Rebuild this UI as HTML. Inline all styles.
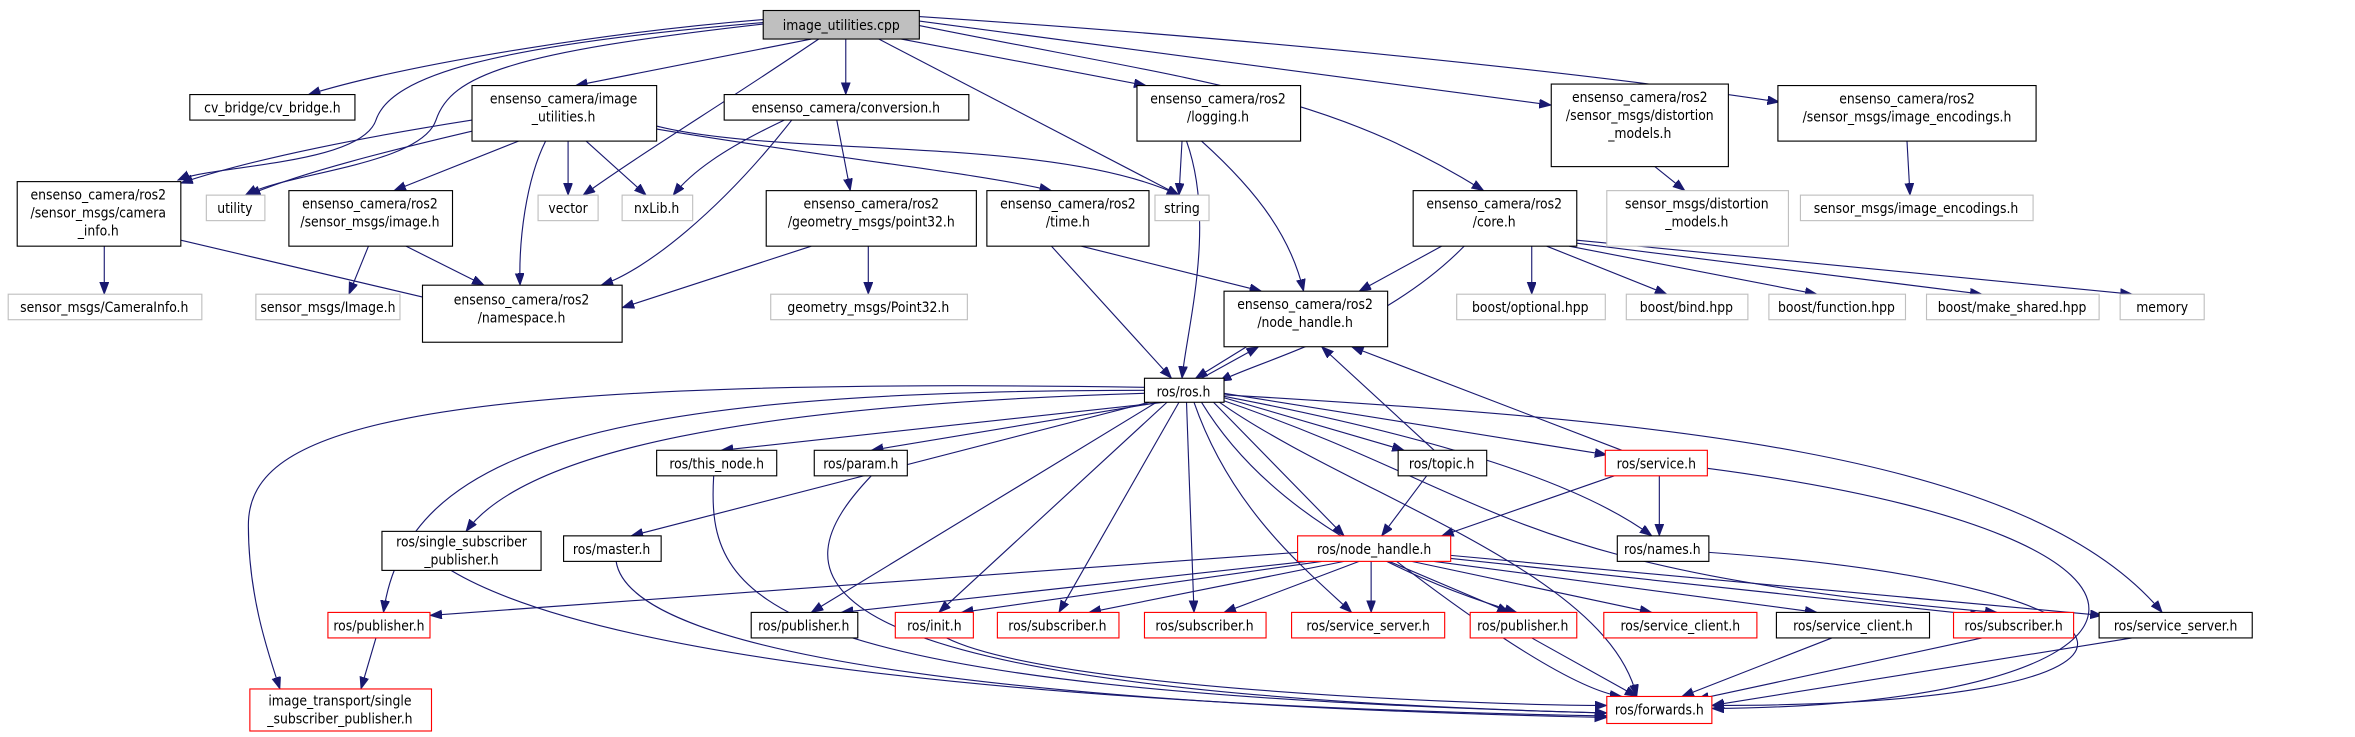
<!DOCTYPE html>
<html><head><meta charset="utf-8"><style>
html,body{margin:0;padding:0;background:#fff;}
svg{display:block}
text{font-family:"DejaVu Sans Condensed","DejaVu Sans","Liberation Sans",sans-serif;font-size:9.2px;text-anchor:middle;fill:#000}
.e{fill:none;stroke:#191970;stroke-width:0.75}
.n{fill:#fff;stroke:#000;stroke-width:0.75}
.g{fill:#fff;stroke:#bfbfbf;stroke-width:0.75}
.r{fill:#fff;stroke:#ff0000;stroke-width:0.75}
</style></head><body>
<svg width="2355" height="737" viewBox="0 0 1568 491" xmlns="http://www.w3.org/2000/svg">
<defs><marker id="a" markerUnits="userSpaceOnUse" markerWidth="9" markerHeight="7" refX="8" refY="3" orient="auto"><path d="M0,0 L8,3 L0,6 z" fill="#191970" stroke="#191970" stroke-width="0.5"/></marker></defs>
<g marker-end="url(#a)">
<path class="e" d="M508,13 C420,20 280,40 205,63"/>
<path class="e" d="M508,15 C330,30 260,50 250,80 C240,110 140,110 118,120"/>
<path class="e" d="M508,16 C340,35 300,50 290,80 C280,110 190,115 163,130"/>
<path class="e" d="M540,26 L383,57"/>
<path class="e" d="M545,26 C480,70 430,100 388,130"/>
<path class="e" d="M563,26 L563,63"/>
<path class="e" d="M585,26 L785,130"/>
<path class="e" d="M600,26 L763,57"/>
<path class="e" d="M612,17 C800,55 880,60 988,127"/>
<path class="e" d="M612,14 C800,40 950,60 1033,70"/>
<path class="e" d="M612,11 C900,30 1100,55 1185,68"/>
<path class="e" d="M314,80 C250,90 170,105 120,122"/>
<path class="e" d="M320,86 C260,100 200,115 165,130"/>
<path class="e" d="M345,94 L262,127"/>
<path class="e" d="M363,94 C350,120 345,160 346,190"/>
<path class="e" d="M378,94 L378,130"/>
<path class="e" d="M390,94 L430,130"/>
<path class="e" d="M437,84 C520,105 700,90 785,130"/>
<path class="e" d="M437,86 C550,105 650,115 700,127"/>
<path class="e" d="M522,80 C480,100 460,115 448,130"/>
<path class="e" d="M527,80 C480,140 430,180 400,190"/>
<path class="e" d="M557,80 L566,127"/>
<path class="e" d="M787,94 L785,130"/>
<path class="e" d="M790,94 C810,150 790,220 787,252"/>
<path class="e" d="M800,94 C840,130 860,160 868,194"/>
<path class="e" d="M69,164 L69,196"/>
<path class="e" d="M120,160 L290,200"/>
<path class="e" d="M245,164 L232,196"/>
<path class="e" d="M270,164 L322,190"/>
<path class="e" d="M540,164 L414,205"/>
<path class="e" d="M578,164 L578,196"/>
<path class="e" d="M700,164 L780,252"/>
<path class="e" d="M720,164 L840,194"/>
<path class="e" d="M960,164 L905,194"/>
<path class="e" d="M975,164 C920,220 840,240 812,254"/>
<path class="e" d="M1020,164 L1020,196"/>
<path class="e" d="M1030,164 L1110,196"/>
<path class="e" d="M1045,164 L1210,196"/>
<path class="e" d="M1050,162 L1320,196"/>
<path class="e" d="M1050,160 L1420,196"/>
<path class="e" d="M1102,111 L1122,127"/>
<path class="e" d="M1270,94 L1272,130"/>
<path class="e" d="M830,231 L796,252"/>
<path class="e" d="M800,252 L838,231"/>
<path class="e" d="M775,268 L480,300"/>
<path class="e" d="M772,268 L580,300"/>
<path class="e" d="M815,265 L935,300"/>
<path class="e" d="M815,262 L1070,303"/>
<path class="e" d="M762,262 C500,270 350,300 310,354"/>
<path class="e" d="M765,268 L420,357"/>
<path class="e" d="M808,268 L895,357"/>
<path class="e" d="M815,264 C950,290 1050,320 1100,357"/>
<path class="e" d="M762,260 C400,260 270,300 255,408"/>
<path class="e" d="M762,258 C250,250 165,290 165,350 C165,400 180,440 186,459"/>
<path class="e" d="M770,268 L540,408"/>
<path class="e" d="M777,268 L625,408"/>
<path class="e" d="M785,268 L705,408"/>
<path class="e" d="M790,268 L795,408"/>
<path class="e" d="M795,268 C820,340 870,380 900,408"/>
<path class="e" d="M800,268 C850,350 950,390 1010,408"/>
<path class="e" d="M812,266 C1000,330 1000,380 1330,408"/>
<path class="e" d="M815,263 C1100,280 1350,300 1440,408"/>
<path class="e" d="M812,268 C900,330 1070,380 1090,464"/>
<path class="e" d="M955,300 L880,231"/>
<path class="e" d="M950,317 L920,357"/>
<path class="e" d="M1080,300 L900,231"/>
<path class="e" d="M1075,317 L960,357"/>
<path class="e" d="M1105,317 L1105,357"/>
<path class="e" d="M1137,312 C1500,360 1450,470 1140,472"/>
<path class="e" d="M475,317 C470,400 500,460 1070,475"/>
<path class="e" d="M580,317 C520,380 500,460 1070,475"/>
<path class="e" d="M300,380 C400,440 700,470 1070,477"/>
<path class="e" d="M410,374 C420,440 700,470 1070,478"/>
<path class="e" d="M1138,368 C1450,390 1480,470 1140,470"/>
<path class="e" d="M864,368 L286,410"/>
<path class="e" d="M870,374 L560,408"/>
<path class="e" d="M880,374 L640,408"/>
<path class="e" d="M895,374 L725,408"/>
<path class="e" d="M905,374 L815,408"/>
<path class="e" d="M913,374 L913,408"/>
<path class="e" d="M925,374 L1005,408"/>
<path class="e" d="M940,374 L1100,408"/>
<path class="e" d="M955,374 L1210,408"/>
<path class="e" d="M966,372 L1320,410"/>
<path class="e" d="M966,370 L1400,410"/>
<path class="e" d="M930,374 C990,420 1050,460 1080,464"/>
<path class="e" d="M250,425 L240,459"/>
<path class="e" d="M630,425 C700,460 1000,470 1070,470"/>
<path class="e" d="M1020,425 L1090,464"/>
<path class="e" d="M1220,425 L1120,464"/>
<path class="e" d="M1320,425 L1130,466"/>
<path class="e" d="M1420,425 L1140,470"/>
</g>
<!-- nodes -->
<rect x="508" y="7" width="104" height="19" fill="#bfbfbf" stroke="#000" stroke-width="0.75"/><text x="560" y="20">image_utilities.cpp</text>
<rect class="n" x="126" y="63" width="110" height="17"/><text x="181" y="75">cv_bridge/cv_bridge.h</text>
<rect class="n" x="314" y="57" width="123" height="37"/><text x="375" y="69">ensenso_camera/image</text><text x="375" y="81">_utilities.h</text>
<rect class="n" x="482" y="63" width="163" height="17"/><text x="563" y="75">ensenso_camera/conversion.h</text>
<rect class="n" x="757" y="57" width="109" height="37"/><text x="811" y="69">ensenso_camera/ros2</text><text x="811" y="81">/logging.h</text>
<rect class="n" x="1033" y="56" width="118" height="55"/><text x="1092" y="68">ensenso_camera/ros2</text><text x="1092" y="80">/sensor_msgs/distortion</text><text x="1092" y="92">_models.h</text>
<rect class="n" x="1184" y="57" width="172" height="37"/><text x="1270" y="69">ensenso_camera/ros2</text><text x="1270" y="81">/sensor_msgs/image_encodings.h</text>
<rect class="n" x="11" y="121" width="109" height="43"/><text x="65" y="133">ensenso_camera/ros2</text><text x="65" y="145">/sensor_msgs/camera</text><text x="65" y="157">_info.h</text>
<rect class="g" x="137" y="130" width="39" height="17"/><text x="156" y="142">utility</text>
<rect class="n" x="192" y="127" width="109" height="37"/><text x="246" y="139">ensenso_camera/ros2</text><text x="246" y="151">/sensor_msgs/image.h</text>
<rect class="g" x="358" y="130" width="40" height="17"/><text x="378" y="142">vector</text>
<rect class="g" x="414" y="130" width="47" height="17"/><text x="437" y="142">nxLib.h</text>
<rect class="n" x="510" y="127" width="140" height="37"/><text x="580" y="139">ensenso_camera/ros2</text><text x="580" y="151">/geometry_msgs/point32.h</text>
<rect class="n" x="657" y="127" width="108" height="37"/><text x="711" y="139">ensenso_camera/ros2</text><text x="711" y="151">/time.h</text>
<rect class="g" x="769" y="130" width="36" height="17"/><text x="787" y="142">string</text>
<rect class="n" x="941" y="127" width="109" height="37"/><text x="995" y="139">ensenso_camera/ros2</text><text x="995" y="151">/core.h</text>
<rect class="g" x="1070" y="127" width="121" height="37"/><text x="1130" y="139">sensor_msgs/distortion</text><text x="1130" y="151">_models.h</text>
<rect class="g" x="1199" y="130" width="155" height="17"/><text x="1276" y="142">sensor_msgs/image_encodings.h</text>
<rect class="g" x="5" y="196" width="129" height="17"/><text x="69" y="208">sensor_msgs/CameraInfo.h</text>
<rect class="g" x="170" y="196" width="96" height="17"/><text x="218" y="208">sensor_msgs/Image.h</text>
<rect class="n" x="281" y="190" width="133" height="38"/><text x="347" y="203">ensenso_camera/ros2</text><text x="347" y="215">/namespace.h</text>
<rect class="g" x="513" y="196" width="131" height="17"/><text x="578" y="208">geometry_msgs/Point32.h</text>
<rect class="n" x="815" y="194" width="109" height="37"/><text x="869" y="206">ensenso_camera/ros2</text><text x="869" y="218">/node_handle.h</text>
<rect class="g" x="970" y="196" width="99" height="17"/><text x="1019" y="208">boost/optional.hpp</text>
<rect class="g" x="1083" y="196" width="81" height="17"/><text x="1123" y="208">boost/bind.hpp</text>
<rect class="g" x="1178" y="196" width="91" height="17"/><text x="1223" y="208">boost/function.hpp</text>
<rect class="g" x="1283" y="196" width="115" height="17"/><text x="1340" y="208">boost/make_shared.hpp</text>
<rect class="g" x="1412" y="196" width="56" height="17"/><text x="1440" y="208">memory</text>
<rect class="n" x="762" y="252" width="53" height="16"/><text x="788" y="264">ros/ros.h</text>
<rect class="n" x="437" y="300" width="80" height="17"/><text x="477" y="312">ros/this_node.h</text>
<rect class="n" x="542" y="300" width="62" height="17"/><text x="573" y="312">ros/param.h</text>
<rect class="n" x="931" y="300" width="59" height="17"/><text x="960" y="312">ros/topic.h</text>
<rect class="r" x="1069" y="300" width="68" height="17"/><text x="1103" y="312">ros/service.h</text>
<rect class="n" x="254" y="354" width="106" height="26"/><text x="307" y="364">ros/single_subscriber</text><text x="307" y="376">_publisher.h</text>
<rect class="n" x="375" y="357" width="65" height="17"/><text x="407" y="369">ros/master.h</text>
<rect class="r" x="864" y="357" width="102" height="17"/><text x="915" y="369">ros/node_handle.h</text>
<rect class="n" x="1077" y="357" width="61" height="17"/><text x="1107" y="369">ros/names.h</text>
<rect class="r" x="218" y="408" width="68" height="17"/><text x="252" y="420">ros/publisher.h</text>
<rect class="n" x="500" y="408" width="71" height="17"/><text x="535" y="420">ros/publisher.h</text>
<rect class="r" x="596" y="408" width="52" height="17"/><text x="622" y="420">ros/init.h</text>
<rect class="r" x="664" y="408" width="81" height="17"/><text x="704" y="420">ros/subscriber.h</text>
<rect class="r" x="762" y="408" width="81" height="17"/><text x="802" y="420">ros/subscriber.h</text>
<rect class="r" x="860" y="408" width="102" height="17"/><text x="911" y="420">ros/service_server.h</text>
<rect class="r" x="979" y="408" width="71" height="17"/><text x="1014" y="420">ros/publisher.h</text>
<rect class="r" x="1068" y="408" width="102" height="17"/><text x="1119" y="420">ros/service_client.h</text>
<rect class="n" x="1183" y="408" width="102" height="17"/><text x="1234" y="420">ros/service_client.h</text>
<rect class="r" x="1301" y="408" width="80" height="17"/><text x="1341" y="420">ros/subscriber.h</text>
<rect class="n" x="1398" y="408" width="102" height="17"/><text x="1449" y="420">ros/service_server.h</text>
<rect class="r" x="166" y="459" width="121" height="28"/><text x="226" y="470">image_transport/single</text><text x="226" y="482">_subscriber_publisher.h</text>
<rect class="r" x="1070" y="464" width="70" height="18"/><text x="1105" y="476">ros/forwards.h</text>
</svg>
</body></html>
